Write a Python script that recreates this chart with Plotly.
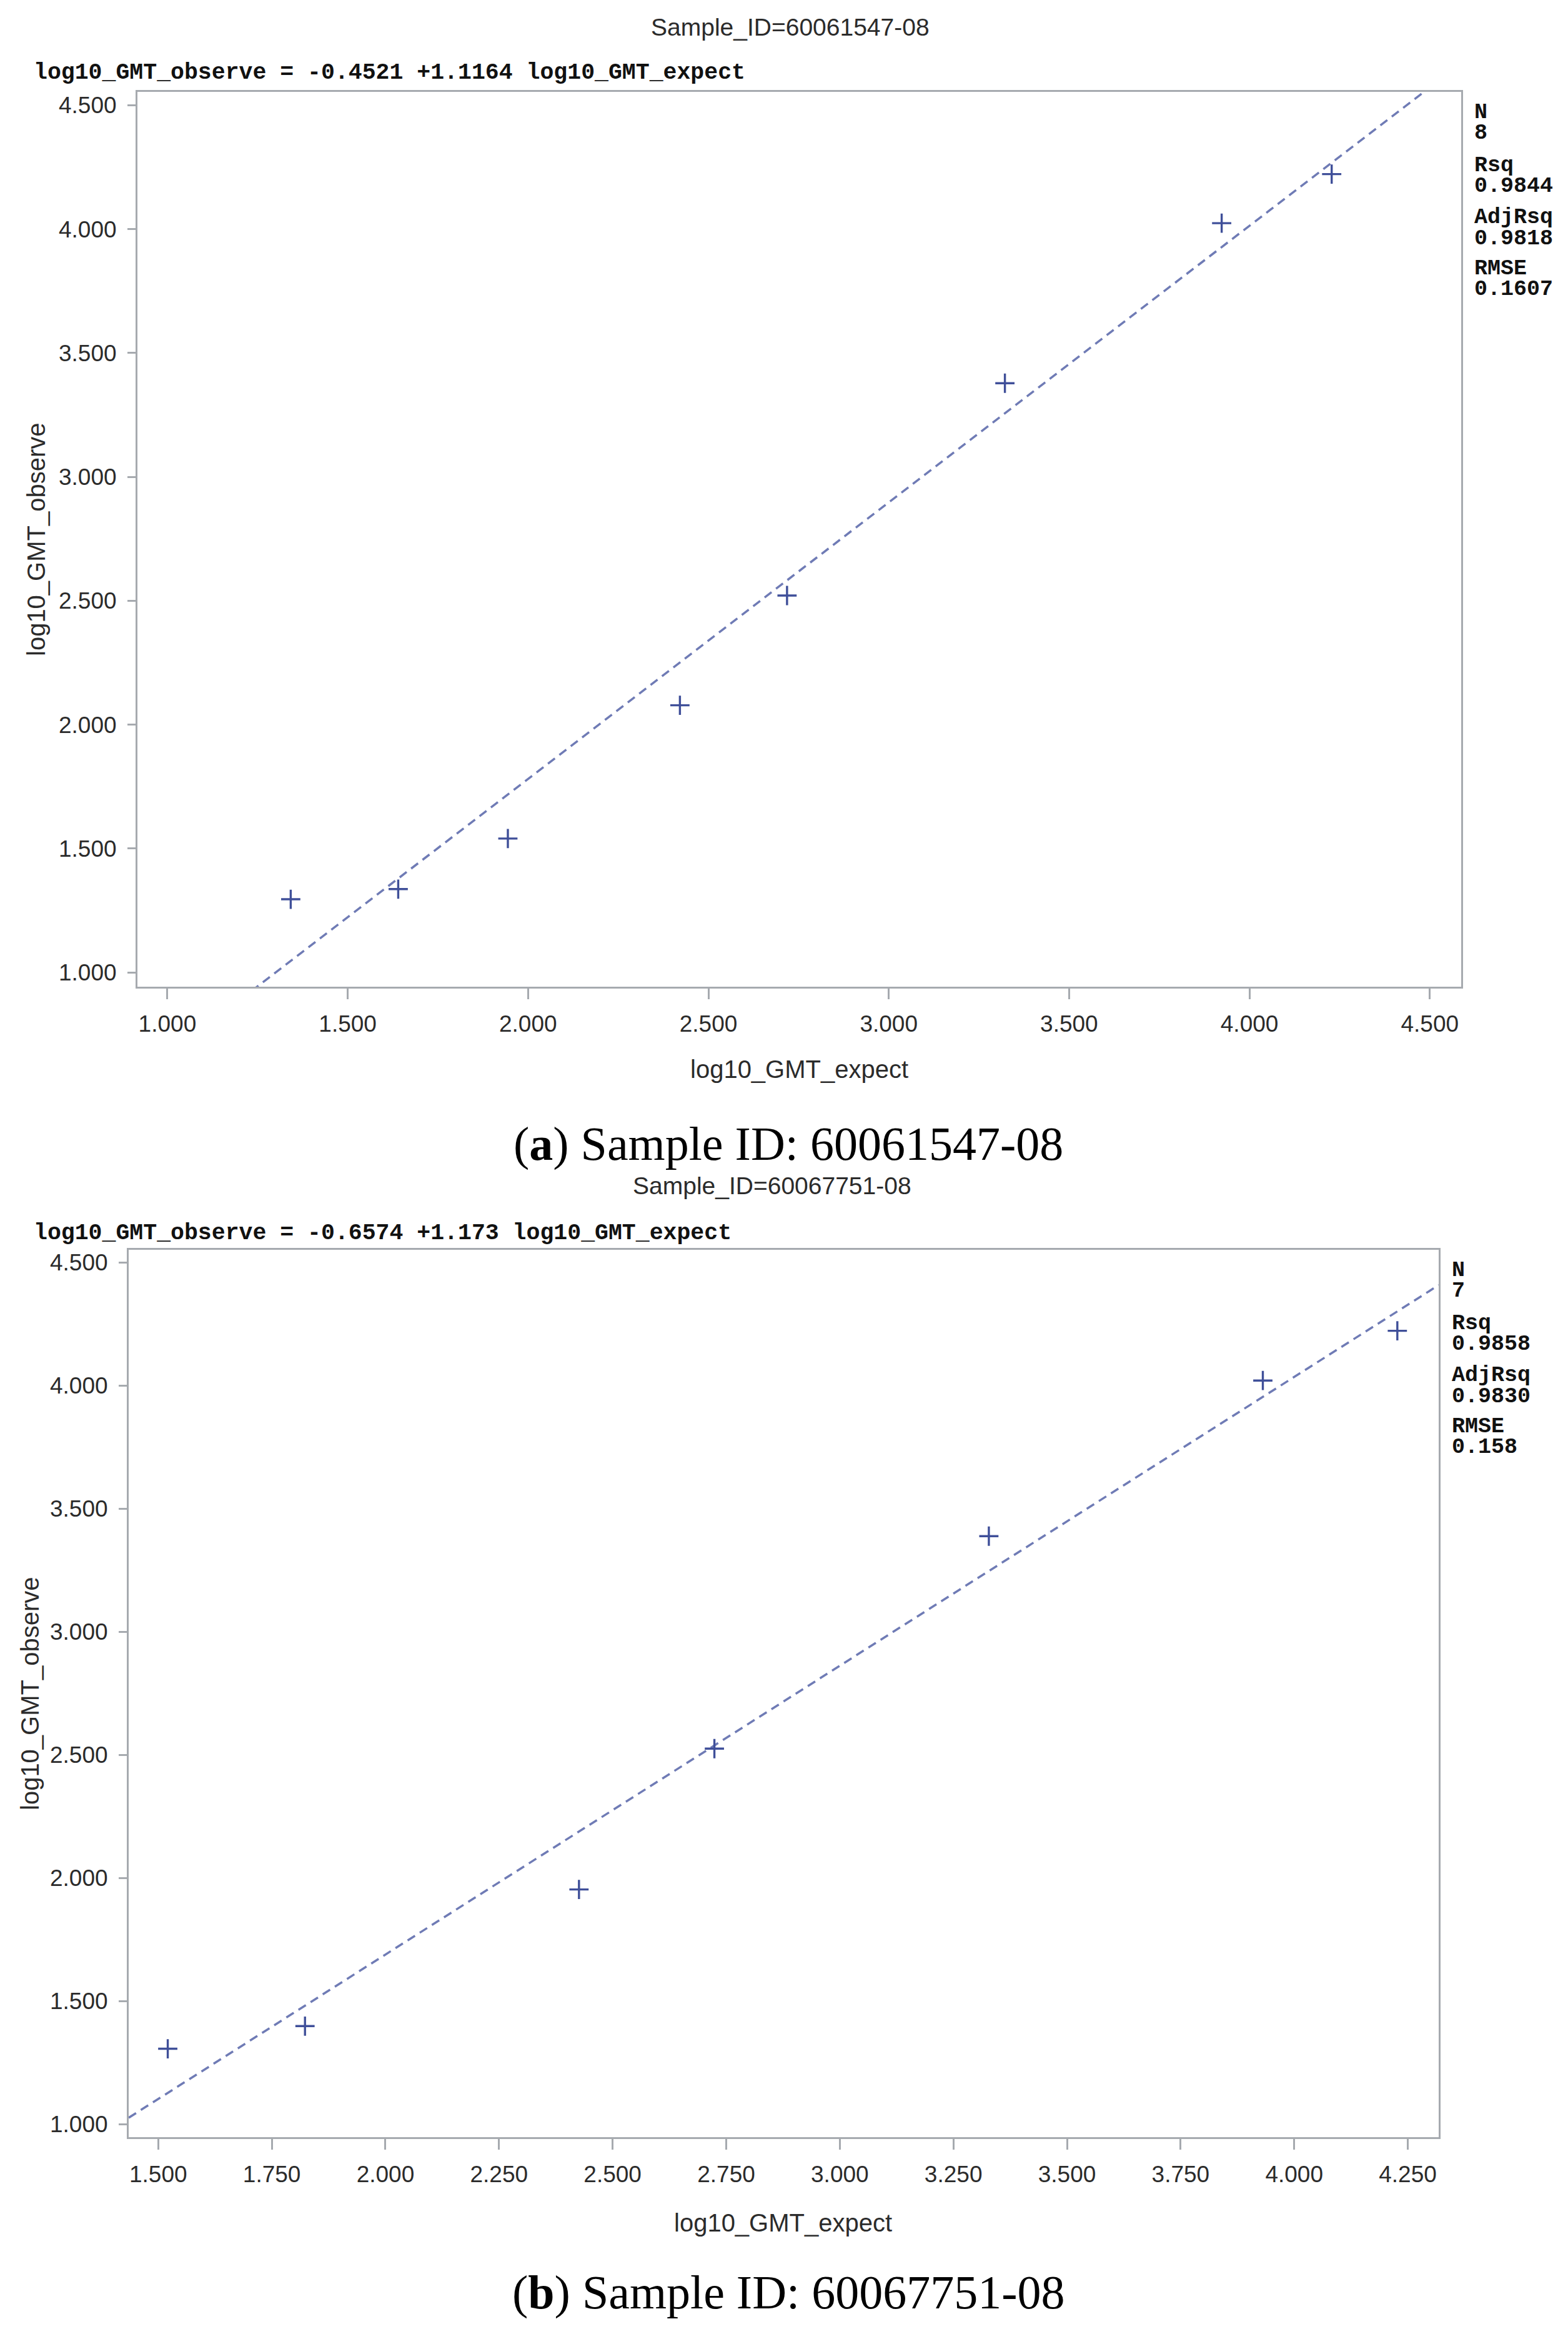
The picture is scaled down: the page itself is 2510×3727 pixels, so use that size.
import plotly.graph_objects as go

W, H = 2510, 3727

# ---------------- data ----------------
# Panel (a) Sample_ID=60061547-08
a_expect = [1.342, 1.640, 1.944, 2.421, 2.718, 3.322, 3.923, 4.228]
a_observe = [1.295, 1.336, 1.540, 2.078, 2.521, 3.378, 4.024, 4.222]
a_intercept, a_slope = -0.4521, 1.1164
a_stats_labels = ["N", "8", "Rsq", "0.9844", "AdjRsq", "0.9818", "RMSE", "0.1607"]

# Panel (b) Sample_ID=60067751-08
b_expect = [1.521, 1.823, 2.426, 2.724, 3.328, 3.931, 4.227]
b_observe = [1.306, 1.398, 1.953, 2.525, 3.388, 4.020, 4.222]
b_intercept, b_slope = -0.6574, 1.173
b_stats_labels = ["N", "7", "Rsq", "0.9858", "AdjRsq", "0.9830", "RMSE", "0.158"]

# ---------------- style ----------------
MARK = "#3f4f99"
LINE = "#6f7bb5"
FRAME = "#a6aaaf"
TXT = "#2b2b2b"
SANS = "Liberation Sans, Arial, sans-serif"
MONO = "Liberation Mono, Courier New, monospace"
SERIF = "Liberation Serif, Times New Roman, serif"


def px_x(x):
    return x / W


def px_y(y):
    return 1 - y / H


fig = go.Figure()

panels = [
    dict(xe=a_expect, yo=a_observe, b0=a_intercept, b1=a_slope, stats=a_stats_labels,
         xr=[0.917, 4.587], yr=[0.942, 4.554], xdt=0.5,
         dom_x=[220, 2339], dom_y=[147, 1579], xa="x", ya="y",
         title="Sample_ID=60061547-08", title_xy=(1265, 43),
         eq="log10_GMT_observe = -0.4521 +1.1164 log10_GMT_expect", eq_xy=(52, 117),
         stats_x=2358, xt_xy=(1279, 1711), yt_xy=(58, 863),
         cap="(<b>a</b>) Sample ID: 60061547-08", cap_xy=(1262, 1830)),
    dict(xe=b_expect, yo=b_observe, b0=b_intercept, b1=b_slope, stats=b_stats_labels,
         xr=[1.435, 4.318], yr=[0.947, 4.551], xdt=0.25,
         dom_x=[206, 2303], dom_y=[2000, 3420], xa="x2", ya="y2",
         title="Sample_ID=60067751-08", title_xy=(1236, 1897),
         eq="log10_GMT_observe = -0.6574 +1.173 log10_GMT_expect", eq_xy=(52, 1973),
         stats_x=2322, xt_xy=(1253, 3557), yt_xy=(48, 2710),
         cap="(<b>b</b>) Sample ID: 60067751-08", cap_xy=(1262, 3668)),
]

annotations = []
layout_axes = {}
for i, p in enumerate(panels):
    # regression line over the x range
    lx = list(p["xr"])
    ly = [p["b0"] + p["b1"] * v for v in lx]
    fig.add_trace(go.Scatter(x=lx, y=ly, mode="lines", xaxis=p["xa"], yaxis=p["ya"],
                             line=dict(color=LINE, width=3.5, dash="14px,9px"),
                             showlegend=False, hoverinfo="skip"))
    fig.add_trace(go.Scatter(x=p["xe"], y=p["yo"], mode="markers", xaxis=p["xa"], yaxis=p["ya"],
                             marker=dict(symbol="cross-thin", size=22, line=dict(color=MARK, width=3.4)),
                             showlegend=False))
    xkey = "xaxis" if i == 0 else "xaxis2"
    ykey = "yaxis" if i == 0 else "yaxis2"
    common = dict(showline=True, mirror=True, linecolor=FRAME, linewidth=3, showgrid=False,
                  zeroline=False, ticks="outside", tickcolor=FRAME, tickwidth=2.5,
                  tickformat=".3f", tickfont=dict(family=SANS, size=37, color=TXT))
    layout_axes[xkey] = dict(common, range=p["xr"], dtick=p["xdt"], tick0=1.0, ticklen=17,
                             ticklabelstandoff=8,
                             domain=[px_x(p["dom_x"][0]), px_x(p["dom_x"][1])],
                             anchor=p["ya"])
    layout_axes[ykey] = dict(common, range=p["yr"], dtick=0.5, tick0=1.0, ticklen=13,
                             ticklabelstandoff=10,
                             domain=[px_y(p["dom_y"][1]), px_y(p["dom_y"][0])],
                             anchor=p["xa"])

    annotations.append(dict(text=p["title"], x=px_x(p["title_xy"][0]), y=px_y(p["title_xy"][1]),
                            xref="paper", yref="paper", showarrow=False, xanchor="center", yanchor="middle",
                            font=dict(family=SANS, size=39, color=TXT)))
    annotations.append(dict(text="<b>" + p["eq"] + "</b>", x=px_x(p["eq_xy"][0]), y=px_y(p["eq_xy"][1]),
                            xref="paper", yref="paper", showarrow=False, xanchor="left", yanchor="middle",
                            font=dict(family=MONO, size=36.5, color="#111111")))
    offs = [33, 66, 118, 151, 201, 235, 283, 316]
    for lab, off in zip(p["stats"], offs):
        annotations.append(dict(text="<b>" + lab + "</b>", x=px_x(p["stats_x"]),
                                y=px_y(p["dom_y"][0] + off),
                                xref="paper", yref="paper", showarrow=False, xanchor="left",
                                yanchor="middle", font=dict(family=MONO, size=35, color="#111111")))
    annotations.append(dict(text="log10_GMT_expect", x=px_x(p["xt_xy"][0]), y=px_y(p["xt_xy"][1]),
                            xref="paper", yref="paper", showarrow=False, xanchor="center", yanchor="middle",
                            font=dict(family=SANS, size=40, color=TXT)))
    annotations.append(dict(text="log10_GMT_observe", x=px_x(p["yt_xy"][0]), y=px_y(p["yt_xy"][1]),
                            xref="paper", yref="paper", showarrow=False, xanchor="center", yanchor="middle",
                            textangle=-90, font=dict(family=SANS, size=40, color=TXT)))
    annotations.append(dict(text=p["cap"], x=px_x(p["cap_xy"][0]), y=px_y(p["cap_xy"][1]),
                            xref="paper", yref="paper", showarrow=False, xanchor="center", yanchor="middle",
                            font=dict(family=SERIF, size=76, color="#000000")))

fig.update_layout(width=W, height=H, margin=dict(l=0, r=0, t=0, b=0),
                  paper_bgcolor="white", plot_bgcolor="white",
                  annotations=annotations, **layout_axes)

fig.write_html("out.html")
